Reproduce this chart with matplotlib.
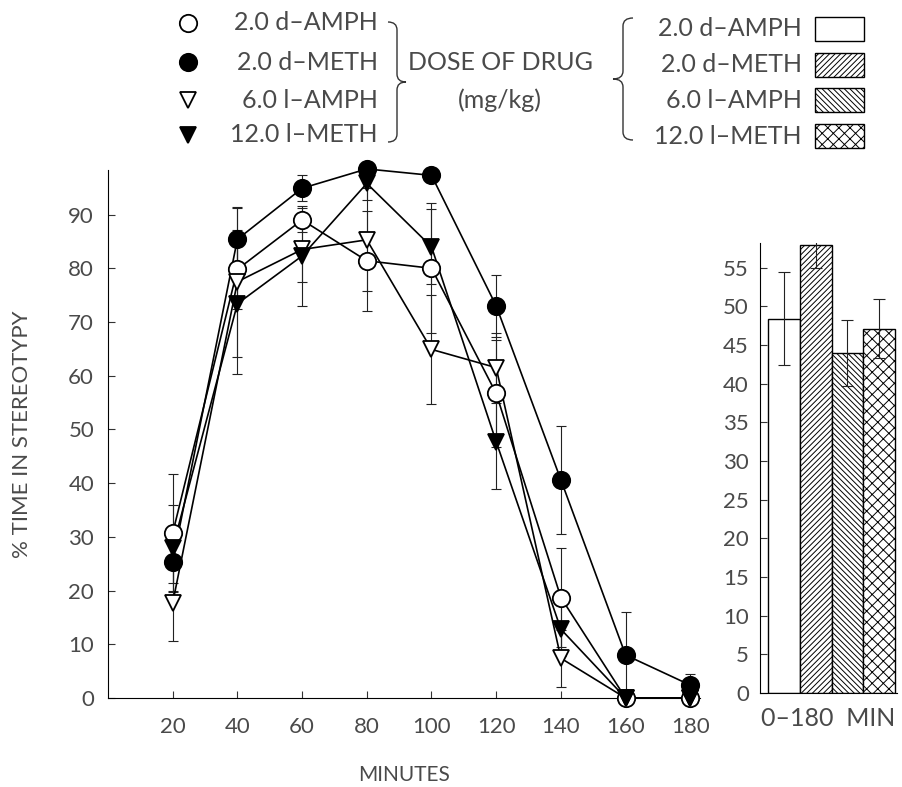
import matplotlib
matplotlib.use("Agg")
import matplotlib.pyplot as plt
from matplotlib.path import Path
from matplotlib.patches import PathPatch, Rectangle

plt.rcParams['font.family'] = ['Lato', 'DejaVu Sans']
plt.rcParams['hatch.linewidth'] = 0.7
TXT = '#4a4a4a'

# --- datos ---
minutos = [20, 40, 60, 80, 100, 120, 140, 160, 180]
d_amph = [30.7, 79.8, 89.0, 81.4, 80.0, 56.7, 18.7, 0, 0]
d_amph_err = [11, 7.3, 2.2, 9.3, 12.1, 10, 9.2, 0, 0]
d_meth = [25.4, 85.4, 94.9, 98.5, 97.3, 73.0, 40.6, 8.0, 2.4]
d_meth_err = [4, 5.9, 2.4, 1, 1, 5.8, 10, 8, 2]
l_amph = [17.7, 77.5, 83.5, 85.3, 64.9, 61.5, 7.4, 0, 0]
l_amph_err = [7, 14, 6, 9.6, 10.2, 6.5, 5.3, 0, 0]
l_meth = [28, 73.4, 82.3, 95.8, 84.0, 47.7, 12.8, 0, 0]
l_meth_err = [8, 13, 9.3, 3, 7, 8.7, 5, 0, 0]

grupos = ['2.0 d\u2013AMPH', '2.0 d\u2013METH', '6.0 l\u2013AMPH', '12.0 l\u2013METH']
barras = [48.4, 58.0, 44.0, 47.1]
barras_err = [6.0, 3.0, 4.3, 3.8]
tramas = ['', '//////', '\\\\\\\\\\\\', 'xxx']

W, H = 902, 787
fig = plt.figure(figsize=(W / 100, H / 100), dpi=100)


def caja(x0, y0, x1, y1):
    # pixeles (y desde arriba) -> fracciones de la figura
    return [x0 / W, 1 - y1 / H, (x1 - x0) / W, (y1 - y0) / H]


# --- grafico de lineas ---
ax = fig.add_axes(caja(108, 170, 700, 698))
estilos = [
    (d_amph, d_amph_err, 'o', 'white'),
    (d_meth, d_meth_err, 'o', 'black'),
    (l_amph, l_amph_err, 'v', 'white'),
    (l_meth, l_meth_err, 'v', 'black'),
]
for i, (ys, err, m, fc) in enumerate(estilos):
    ax.errorbar(minutos, ys, yerr=err, fmt='none', ecolor='#222', elinewidth=0.8,
                capsize=3.5, capthick=0.8, zorder=2, clip_on=False)
    ax.plot(minutos, ys, color='black', lw=1.2, zorder=3, clip_on=False)
    ax.plot(minutos, ys, ls='none', marker=m, ms=12.5 if m == 'o' else 12,
            mfc=fc, mec='black', mew=1.3, zorder=4 + i, clip_on=False)

ax.set_xlim(0, 183)
ax.set_ylim(0, 98.3)
ax.set_xticks(minutos)
ax.set_yticks(range(0, 91, 10))
ax.tick_params(direction='in', length=5, width=0.8, colors='#333', labelcolor=TXT,
               labelsize=16, pad=10)
ax.tick_params(axis='x', pad=14)
for s in ['top', 'right']:
    ax.spines[s].set_visible(False)
ax.set_ylabel('% TIME IN STEREOTYPY', fontsize=16, color=TXT, labelpad=26)
ax.set_xlabel('MINUTES', fontsize=15, color=TXT, labelpad=20)

# --- grafico de barras ---
bx = fig.add_axes(caja(760, 243, 897, 693))
pos = list(range(len(barras)))
bx.bar(pos, barras, width=1.0, color='white', edgecolor='black', linewidth=1.0,
       hatch=tramas, zorder=2)
bx.errorbar(pos, barras, yerr=barras_err, fmt='none', ecolor='#222', elinewidth=0.8,
            capsize=4, capthick=0.8, zorder=3)
bx.set_xlim(-0.75, 3.56)
bx.set_ylim(0, 58.2)
bx.set_yticks(range(0, 56, 5))
bx.set_xticks([])
bx.tick_params(direction='in', length=5, width=0.8, colors='#333', labelcolor=TXT,
               labelsize=16, pad=8)
for s in ['top', 'right']:
    bx.spines[s].set_visible(False)
bx.set_xlabel('0\u2013180  MIN', fontsize=18, color=TXT, labelpad=10)

# --- leyendas ---
lx = fig.add_axes([0, 0, 1, 1], zorder=10)
lx.set_xlim(0, W)
lx.set_ylim(H, 0)
lx.axis('off')


def llave(x, y0, y1, w, derecha=True):
    s = 1 if derecha else -1
    ym = (y0 + y1) / 2
    r = 8
    xm = x + s * w / 2
    verts = [(x, y0), (xm, y0), (xm, y0 + r), (xm, ym - r), (xm, ym), (x + s * w, ym),
             (xm, ym), (xm, ym + r), (xm, y1 - r), (xm, y1), (x, y1)]
    codes = [Path.MOVETO, Path.CURVE3, Path.CURVE3, Path.LINETO, Path.CURVE3, Path.CURVE3,
             Path.CURVE3, Path.CURVE3, Path.LINETO, Path.CURVE3, Path.CURVE3]
    lx.add_patch(PathPatch(Path(verts, codes), fill=False, lw=1.0, ec='#333'))


filas_izq = [23, 62, 100, 135]
for (ys, err, m, fc), nombre, y in zip(estilos, grupos, filas_izq):
    lx.plot([188], [y], marker=m, ms=12.5 if m == 'o' else 11, mfc=fc, mec='black', mew=1.3)
    lx.text(378, y, nombre, ha='right', va='center', fontsize=18, color=TXT)
llave(388, 22, 142, 18, derecha=True)
lx.text(500, 62, 'DOSE OF DRUG', ha='center', va='center', fontsize=18, color=TXT)
lx.text(500, 100, '(mg/kg)', ha='center', va='center', fontsize=18, color=TXT)

filas_der = [29, 65, 100, 136]
llave(633, 18, 140, 20, derecha=False)
for nombre, t, y in zip(grupos, tramas, filas_der):
    lx.text(802, y, nombre, ha='right', va='center', fontsize=18, color=TXT)
    lx.add_patch(Rectangle((815, y - 12), 49, 24, fc='white', ec='black', lw=1.0, hatch=t))

fig.savefig('out.png', dpi=100)
